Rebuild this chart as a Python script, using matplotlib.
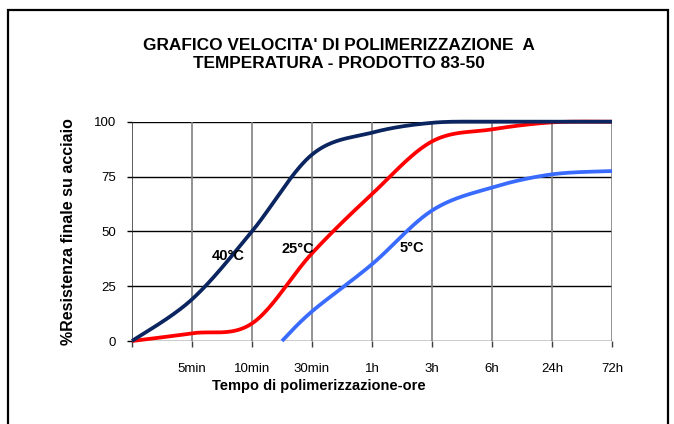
import numpy as np
import matplotlib
matplotlib.use('Agg')
import matplotlib.pyplot as plt
from matplotlib.patches import Rectangle
from matplotlib import font_manager

# ---- dati ----
categorie = ['', '5min', '10min', '30min', '1h', '3h', '6h', '24h', '72h']
yticks = [0, 25, 50, 75, 100]

x_40 = [0, 1, 2, 3, 4, 5, 6, 7, 8]
y_40 = [0, 19, 50, 85, 95, 99.5, 100, 100, 100]

x_25 = [0, 1, 2, 3, 4, 5, 6, 7, 8]
y_25 = [0, 3.5, 8, 40, 67, 91, 96.5, 99.7, 100]

x_5 = [2.5, 3, 4, 5, 6, 7, 8]
y_5 = [0, 13.5, 35, 59.5, 70, 76, 77.5]


def smooth(xs, ys, n=40):
    # linee smussate stile Excel (bezier con punti di controllo catmull-rom)
    p = np.column_stack([xs, ys]).astype(float)
    p = np.vstack([p[0], p, p[-1]])
    out = []
    for i in range(1, len(p) - 2):
        p0, p1, p2, p3 = p[i - 1], p[i], p[i + 1], p[i + 2]
        c1 = p1 + (p2 - p0) / 6
        c2 = p2 - (p3 - p1) / 6
        t = np.linspace(0, 1, n)[:, None]
        b = (1 - t) ** 3 * p1 + 3 * (1 - t) ** 2 * t * c1 + 3 * (1 - t) * t ** 2 * c2 + t ** 3 * p2
        out.append(b)
    b = np.vstack(out)
    return b[:, 0], b[:, 1]


nomi = {f.name for f in font_manager.fontManager.ttflist}
if 'Liberation Sans Narrow' in nomi:
    font_titolo, size_titolo = 'Liberation Sans Narrow', 14.5
else:
    font_titolo, size_titolo = 'Liberation Sans', 12.4

fig = plt.figure(figsize=(6.74, 4.24), dpi=100)
ax = fig.add_axes([132 / 674, 1 - 341 / 424, 480 / 674, (341 - 121.7) / 424])

# cornice esterna
fig.patches.append(Rectangle((8 / 674, -0.1), 660 / 674, 1.1 - 10 / 424,
                             transform=fig.transFigure, fill=False,
                             edgecolor='black', linewidth=1.6))

ax.set_xlim(0, 8)
ax.set_ylim(0, 100)
for s in ax.spines.values():
    s.set_visible(False)

for yv in yticks:
    ax.axhline(yv, color='black', linewidth=1.0, zorder=1)
for i in range(len(categorie)):
    ax.axvline(i, color='#808080' if i > 0 else '#404040', linewidth=1.2, zorder=1)

ax.set_xticks(range(len(categorie)))
ax.set_xticklabels(categorie, family='Liberation Sans', fontsize=9.5)
ax.set_yticks(yticks)
ax.set_yticklabels([str(v) for v in yticks], family='Liberation Sans', fontsize=9.5)
ax.tick_params(axis='x', length=4.3, color='#404040', width=1.0, pad=11.5)
ax.tick_params(axis='y', length=3.4, color='black', width=1.0, pad=8)

for xs, ys, col in [(x_5, y_5, '#3a6bff'), (x_25, y_25, '#ff0000'), (x_40, y_40, '#0b2560')]:
    sx, sy = smooth(xs, ys)
    ax.plot(sx, sy, color=col, linewidth=2.7, solid_capstyle='butt', clip_on=False, zorder=3)

lab_kw = dict(fontsize=10.5, fontweight='bold', family='Liberation Sans', ha='center', va='center', zorder=4)
ax.text(1.6, 38.8, '40°C', **lab_kw)
ax.text(2.76, 41.8, '25°C', **lab_kw)
ax.text(4.66, 42.5, '5°C', **lab_kw)

fig.text(339 / 674, 1 - 55 / 424,
         "GRAFICO VELOCITA' DI POLIMERIZZAZIONE  A\nTEMPERATURA - PRODOTTO 83-50",
         ha='center', va='center', fontsize=size_titolo, fontweight='bold',
         family=font_titolo, linespacing=1.25)

fig.text(319 / 674, 1 - 386 / 424, 'Tempo di polimerizzazione-ore',
         ha='center', va='center', fontsize=10.5, fontweight='bold', family='Liberation Sans')
fig.text(68.5 / 674, 1 - 232 / 424, '%Resistenza finale su acciaio', rotation=90,
         ha='center', va='center', fontsize=11.5, fontweight='bold', family='Liberation Sans')

fig.savefig('out.png', dpi=100)
